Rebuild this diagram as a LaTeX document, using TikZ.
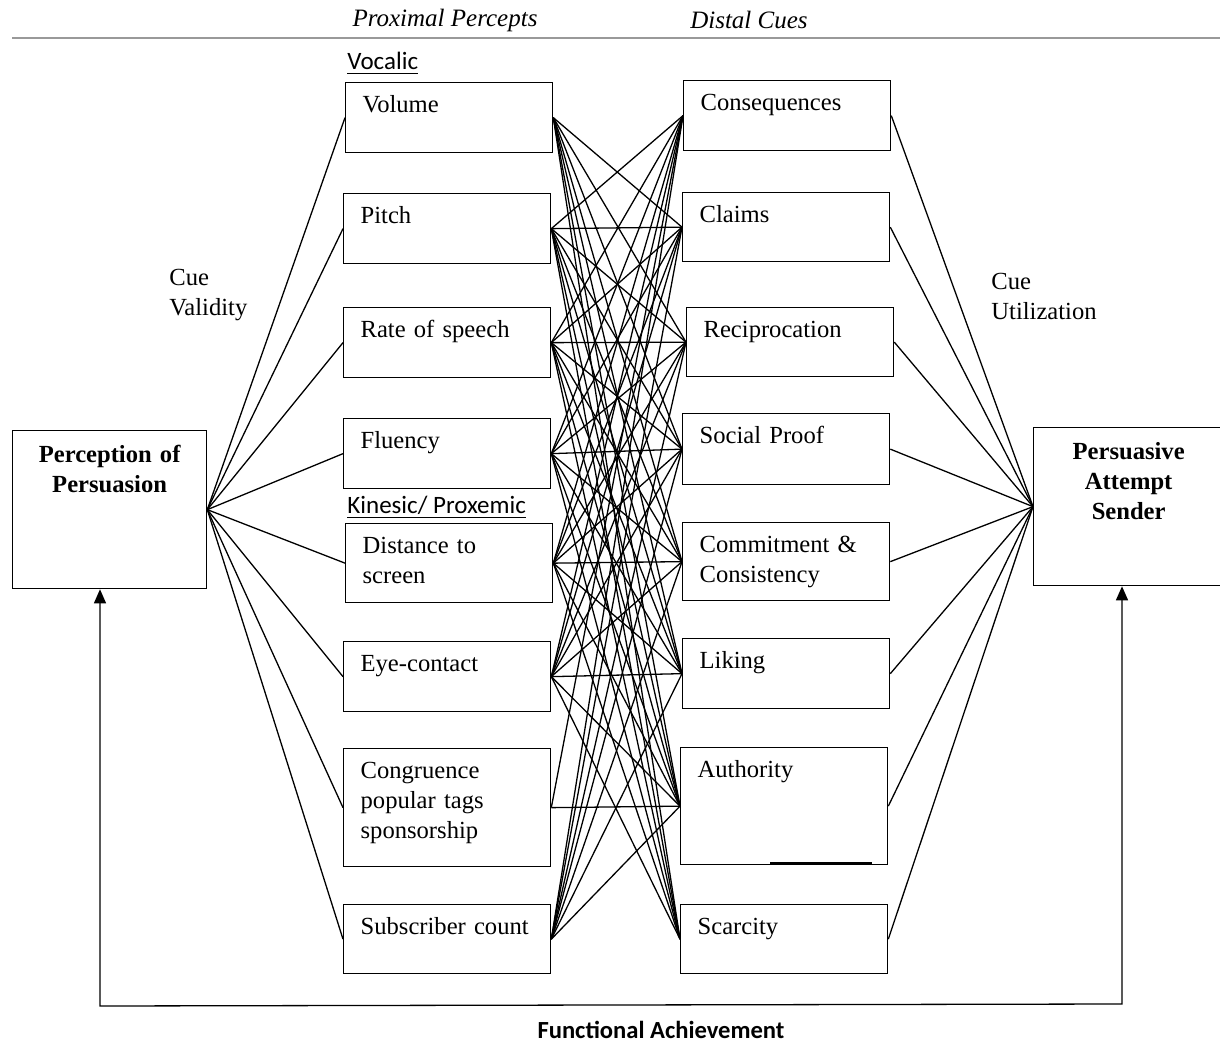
\documentclass[tikz,border=0pt]{standalone}
\usepackage{fontspec}
\setmainfont{Liberation Serif}
\newfontfamily\calibri{Carlito}
\usetikzlibrary{positioning,arrows.meta}

\begin{document}
\begin{tikzpicture}[
        x=0.5pt, y=-0.5pt,
        font=\fontsize{12.3}{15}\selectfont,
        cell/.style={draw, line width=0.65pt, anchor=north west, align=left,
            inner xsep=8.5pt, inner ysep=4.5pt, text width=86.5pt, text height=10.5pt},
        bigbox/.style={draw, line width=0.65pt, anchor=north west, align=center,
            font=\fontsize{12.3}{15}\selectfont\bfseries,
            inner xsep=5pt, inner ysep=5.5pt, text width=87pt,
            text height=10.5pt, text depth=57.5pt},
        heading/.style={font=\fontsize{12.5}{15}\selectfont\itshape},
        group/.style={font=\calibri\fontsize{12.5}{15}\selectfont, anchor=base west, inner sep=0pt},
        cue/.style={align=left, anchor=west, inner sep=0pt},
        link/.style={line width=0.65pt},
        feedback/.style={line width=0.65pt,
            {Triangle[width=6pt,length=7pt]}-{Triangle[width=6pt,length=7pt]}}
    ]

    \useasboundingbox (0,0) rectangle (1220,1042);

    % headings
    \draw[gray!80, line width=0.6pt] (12,38) -- (1220,38);
    \node[heading] (prox) at (445,20) {Proximal Percepts};
    \node[heading] (dist) at (749,20) {Distal Cues};

    % proximal percepts
    \foreach \nm/\x/\y/\dep/\txt in {
        vol/345/82/15.5/Volume, pit/343/193/15.5/Pitch,
        rat/343/307/15.5/Rate of speech, flu/343/418/15.5/Fluency,
        dis/345/523/20/{Distance to\\screen}, eye/343/641/15.5/Eye-contact,
        cng/343/748/39.5/{Congruence\\popular tags\\sponsorship},
        sub/343/904/15/Subscriber count}
        \node[cell, text depth=\dep pt] (\nm) at (\x,\y) {\txt};

    % distal cues
    \foreach \nm/\x/\y/\dep/\txt in {
        csq/683/80/15.5/Consequences, clm/682/192/15/Claims,
        rcp/686/307/15/Reciprocation, spr/682/413/16/Social Proof,
        cmt/682/522/19.5/{Commitment \&\\Consistency}, lik/682/638/15.5/Liking,
        aut/680/747/39/Authority, scr/680/904/15/Scarcity}
        \node[cell, text depth=\dep pt] (\nm) at (\x,\y) {\txt};

    \draw[line width=1.1pt] ([shift={(90,-2)}]aut.south west) -- ([shift={(192,-2)}]aut.south west);

    \node[bigbox] (pop) at (12,430) {Perception of\\Persuasion};
    \node[bigbox, text width=85pt] (pas) at (1033,427) {Persuasive\\Attempt\\Sender};

    \node[group] (vocal) at (347,70) {\underline{Vocalic}};
    \node[group] (kines) at (347,514) {\underline{Kinesic/ Proxemic}};
    \node[cue] (cval) at (169,295) {Cue\\Validity};
    \node[cue] (cuti) at (991,296) {Cue\\Utilization};

    % fans to the outer boxes
    \foreach \a in {vol,pit,rat,flu,dis,eye,cng,sub}
        \draw[link] (pop.east) -- (\a.west);
    \foreach \b in {csq,clm,rcp,spr,cmt,lik,aut,scr}
        \draw[link] (\b.east) -- (pas.west);

    % percepts to cues
    \foreach \a/\targets in {
        vol/{clm,rcp,spr,cmt,lik,aut,scr},
        pit/{csq,clm,rcp,spr,cmt,lik,aut,scr},
        rat/{csq,clm,rcp,spr,cmt,lik,aut,scr},
        flu/{csq,clm,rcp,spr,cmt,lik,aut,scr},
        dis/{csq,clm,rcp,spr,cmt,lik,aut,scr},
        eye/{csq,clm,rcp,spr,cmt,lik,aut,scr},
        cng/{csq,aut},
        sub/{csq,clm,rcp,spr,cmt,lik,aut}}
        \foreach \b in \targets
            \draw[link] (\a.east) -- (\b.west);

    % functional achievement loop
    \coordinate (fbl) at (100,1006);
    \coordinate (fbr) at (1122,1004);
    \draw[feedback] (fbl |- pop.south) -- (fbl) -- (fbr) -- (fbr |- pas.south);
    \node[font=\calibri\bfseries\fontsize{12.3}{15}\selectfont] (func) at (661,1030) {Functional Achievement};

\end{tikzpicture}
\end{document}
